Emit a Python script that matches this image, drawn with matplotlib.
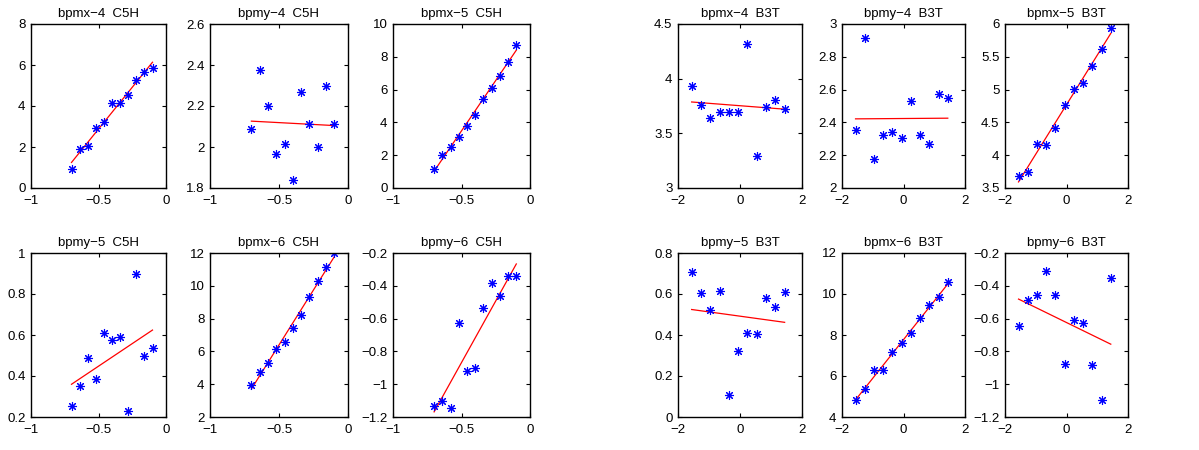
import numpy as np
import matplotlib
matplotlib.use("Agg")
import matplotlib.pyplot as plt
from matplotlib.ticker import FuncFormatter, FixedLocator

plt.rcParams["font.family"] = ["Liberation Sans", "DejaVu Sans"]
plt.rcParams["font.size"] = 9

# =========================
# Data
# =========================
x_c5h = [-0.70, -0.64, -0.58, -0.52, -0.46, -0.40, -0.34, -0.28, -0.22, -0.16, -0.10]
x_b3t = [-1.56, -1.26, -0.96, -0.66, -0.36, -0.06, 0.24, 0.54, 0.84, 1.14, 1.44]

bpmx4_c5h = [0.91, 1.89, 2.04, 2.93, 3.20, 4.13, 4.13, 4.56, 5.28, 5.67, 5.86]
bpmy4_c5h = [2.087, 2.375, 2.198, 1.966, 2.015, 1.841, 2.266, 2.113, 1.998, 2.297, 2.113]
bpmx5_c5h = [1.14, 2.04, 2.51, 3.12, 3.80, 4.45, 5.43, 6.08, 6.84, 7.71, 8.73]
bpmy5_c5h = [0.254, 0.352, 0.486, 0.384, 0.608, 0.574, 0.590, 0.229, 0.899, 0.499, 0.536]
bpmx6_c5h = [3.98, 4.76, 5.31, 6.12, 6.55, 7.41, 8.22, 9.31, 10.31, 11.12, 12.0]
bpmy6_c5h = [-1.133, -1.102, -1.145, -0.629, -0.920, -0.904, -0.533, -0.382, -0.461, -0.343, -0.343]

bpmx4_b3t = [3.936, 3.759, 3.637, 3.692, 3.692, 3.692, 4.317, 3.296, 3.741, 3.808, 3.723]
bpmy4_b3t = [2.356, 2.915, 2.177, 2.325, 2.341, 2.305, 2.528, 2.325, 2.270, 2.571, 2.547]
bpmx5_b3t = [3.678, 3.739, 4.176, 4.150, 4.420, 4.765, 5.014, 5.106, 5.365, 5.620, 5.939]
bpmy5_b3t = [0.707, 0.606, 0.521, 0.616, 0.106, 0.322, 0.410, 0.407, 0.580, 0.537, 0.612]
bpmx6_b3t = [4.82, 5.39, 6.27, 6.27, 7.15, 7.59, 8.08, 8.82, 9.47, 9.83, 10.58]
bpmy6_b3t = [-0.645, -0.486, -0.459, -0.312, -0.459, -0.876, -0.608, -0.629, -0.880, -1.096, -0.353]

# (title, x, y, ylim, ytick step, xlim, xtick step)
panels = [
    ("bpmx\u22124  C5H", x_c5h, bpmx4_c5h, (0, 8), 2, (-1, 0), 0.5),
    ("bpmy\u22124  C5H", x_c5h, bpmy4_c5h, (1.8, 2.6), 0.2, (-1, 0), 0.5),
    ("bpmx\u22125  C5H", x_c5h, bpmx5_c5h, (0, 10), 2, (-1, 0), 0.5),
    ("bpmy\u22125  C5H", x_c5h, bpmy5_c5h, (0.2, 1), 0.2, (-1, 0), 0.5),
    ("bpmx\u22126  C5H", x_c5h, bpmx6_c5h, (2, 12), 2, (-1, 0), 0.5),
    ("bpmy\u22126  C5H", x_c5h, bpmy6_c5h, (-1.2, -0.2), 0.2, (-1, 0), 0.5),
    ("bpmx\u22124  B3T", x_b3t, bpmx4_b3t, (3, 4.5), 0.5, (-2, 2), 2),
    ("bpmy\u22124  B3T", x_b3t, bpmy4_b3t, (2, 3), 0.2, (-2, 2), 2),
    ("bpmx\u22125  B3T", x_b3t, bpmx5_b3t, (3.5, 6), 0.5, (-2, 2), 2),
    ("bpmy\u22125  B3T", x_b3t, bpmy5_b3t, (0, 0.8), 0.2, (-2, 2), 2),
    ("bpmx\u22126  B3T", x_b3t, bpmx6_b3t, (4, 12), 2, (-2, 2), 2),
    ("bpmy\u22126  B3T", x_b3t, bpmy6_b3t, (-1.2, -0.2), 0.2, (-2, 2), 2),
]

# axes boxes in pixels: (left, right) per column, (top, bottom) per row
W, H = 1199, 450
cols_left = [(31, 166), (210, 348), (393, 530)]
cols_right = [(678, 802), (842, 965), (1005, 1128)]
rows = [(24, 188), (253, 417)]


def fmt(v, pos):
    s = "%g" % round(v, 6)
    if s == "-0":
        s = "0"
    return s.replace("-", "\u2212")


fig = plt.figure(figsize=(W / 100, H / 100), dpi=100)

for i, (title, x, y, ylim, ystep, xlim, xstep) in enumerate(panels):
    group = cols_left if i < 6 else cols_right
    j = i % 6
    r, c = divmod(j, 3)
    l, rgt = group[c]
    t, b = rows[r]
    ax = fig.add_axes([l / W, (H - b) / H, (rgt - l) / W, (b - t) / H])

    xa = np.array(x)
    ya = np.array(y)
    k, m = np.polyfit(xa, ya, 1)
    xe = np.array([xa.min(), xa.max()])
    ax.plot(xe, k * xe + m, color="red", lw=0.9)
    ax.plot(xa, ya, linestyle="none", marker=(8, 2, 0), color="blue",
            markersize=6.5, markeredgewidth=0.8)

    ax.set_xlim(*xlim)
    ax.set_ylim(*ylim)
    ax.xaxis.set_major_locator(FixedLocator(np.arange(xlim[0], xlim[1] + 1e-9, xstep)))
    ax.yaxis.set_major_locator(FixedLocator(np.arange(ylim[0], ylim[1] + 1e-9, ystep)))
    ax.xaxis.set_major_formatter(FuncFormatter(fmt))
    ax.yaxis.set_major_formatter(FuncFormatter(fmt))
    ax.tick_params(direction="in", top=True, right=True, length=3, width=0.8,
                   labelsize=9.5)
    ax.tick_params(axis="x", pad=5)
    ax.tick_params(axis="y", pad=4)
    for sp in ax.spines.values():
        sp.set_linewidth(1.0)
    ax.set_title(title, fontsize=9.5, pad=5)

fig.savefig("out.png", dpi=100)
